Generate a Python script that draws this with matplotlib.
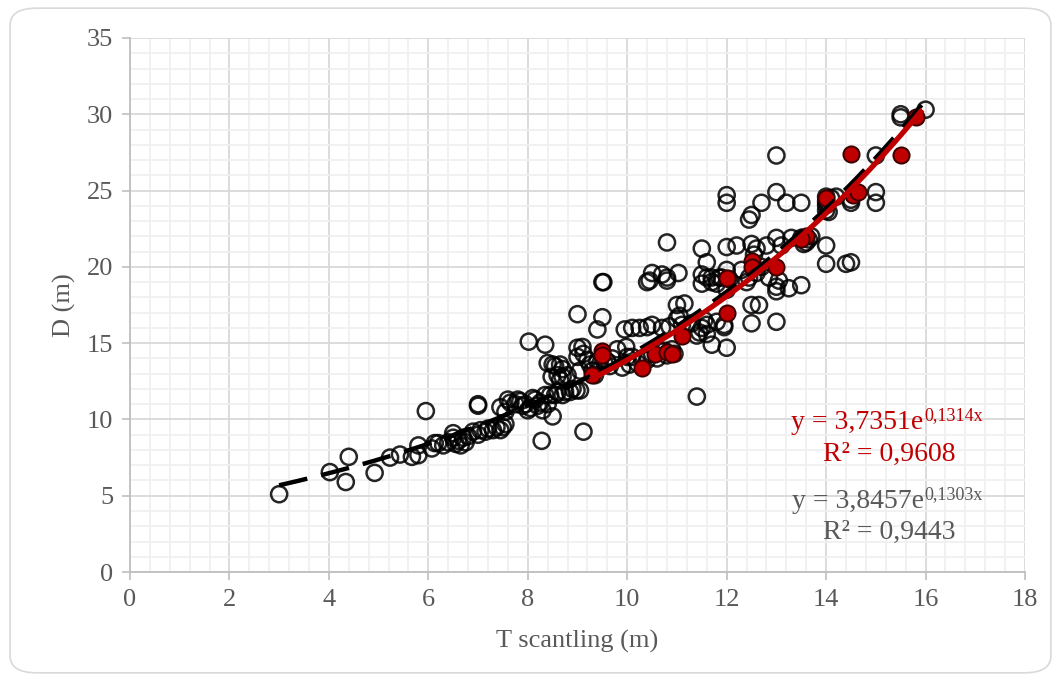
import numpy as np
import matplotlib
matplotlib.use("Agg")
import matplotlib.pyplot as plt
from matplotlib.patches import FancyBboxPatch
from matplotlib.ticker import MultipleLocator

plt.rcParams['font.family'] = ['Liberation Serif', 'DejaVu Serif']

# all measured samples (open circles)
black_x = [3.0, 4.02, 4.4, 4.34, 4.92, 5.23, 5.43, 5.67, 5.8, 5.8, 5.95, 6.07, 6.13, 6.2,
           6.3, 6.4, 6.5, 6.5, 6.55, 6.6, 6.65, 6.7, 6.75, 6.8, 6.9, 7.0, 7.05, 7.15, 7.2, 7.3,
           7.37, 7.45, 7.5, 7.55, 7.0, 7.0,
           7.45, 7.55, 7.6, 7.65, 7.75, 7.8, 7.85, 7.9, 7.95, 8.0, 8.05, 8.1, 8.15, 8.2, 8.25,
           8.3, 8.35, 8.4, 8.45, 8.5, 8.55, 8.6, 8.7, 8.75, 8.85, 8.9, 8.98, 9.05, 8.28, 9.12,
           8.48, 8.6, 8.7, 8.8, 8.65,
           8.02, 8.35, 8.4, 8.5, 8.55, 8.65, 8.7, 9.0, 9.0, 9.05, 9.1, 9.12, 9.2, 9.25, 9.4,
           9.45, 9.55, 9.6, 9.65, 9.7, 9.4, 9.5, 9.0, 9.5, 9.52, 9.3, 9.35,
           9.8, 9.9, 9.95, 9.98, 10.0, 10.05, 10.1, 10.1, 10.2, 10.25, 10.3, 10.4, 10.4, 10.5,
           10.5, 10.6, 10.65, 10.7, 10.75, 10.8, 10.9, 10.95, 11.0, 11.0, 11.05, 11.15, 11.1, 10.85,
           10.4, 10.45, 10.5, 10.7, 10.8, 10.8, 11.03, 10.8,
           11.3, 11.4, 11.45, 11.5, 11.6, 11.6, 11.7, 11.95, 11.95, 12.0, 11.4, 11.55, 11.8,
           11.5, 11.5, 11.5, 11.6, 11.6, 11.7, 11.8, 11.85, 11.9, 12.0, 12.0, 11.7, 12.0, 12.05,
           12.0, 12.0, 12.2, 12.3, 12.45, 12.45, 12.5, 12.5, 12.5, 12.5, 12.6, 12.65, 12.7, 12.8,
           12.85, 12.6, 12.7, 13.0, 13.0, 13.0, 13.05, 13.0, 13.0, 13.0, 13.1, 13.2, 13.25, 13.3,
           12.55, 12.4,
           13.5, 13.5, 13.5, 13.55, 13.6, 13.65, 13.7, 14.0, 14.0, 14.0, 14.0, 14.05, 14.0, 14.0,
           14.1, 14.2, 14.4, 14.5, 14.5, 14.5,
           15.0, 15.0, 15.0, 15.5, 15.5, 16.0]
black_y = [5.1, 6.55, 7.55, 5.9, 6.5, 7.5, 7.7, 7.55, 7.66, 8.3, 10.55, 8.1, 8.45, 8.45,
           8.3, 8.5, 9.1, 8.8, 8.4, 8.6, 8.3, 8.8, 8.5, 8.9, 9.2, 9.0, 9.3, 9.2, 9.4, 9.3,
           9.5, 9.3, 9.5, 9.7, 11.0, 10.9,
           10.8, 10.5, 11.3, 11.1, 11.0, 11.3, 11.2, 10.9, 11.0, 10.6, 10.75, 11.4, 11.3, 10.9, 11.1,
           10.6, 11.6, 11.0, 11.6, 10.2, 11.6, 11.8, 11.6, 11.8, 11.8, 12.0, 11.9, 11.9, 8.6, 9.2,
           12.8, 12.9, 12.8, 12.9, 12.6,
           15.1, 14.9, 13.7, 13.6, 13.5, 13.6, 13.3, 14.7, 14.1, 13.2, 14.75, 14.3, 13.9, 13.6, 13.8,
           13.6, 13.6, 13.8, 13.5, 14.0, 15.9, 16.7, 16.9, 19.0, 19.0, 13.2, 12.9,
           14.6, 13.4, 15.9, 14.75, 14.1, 13.6, 16.0, 14.1, 13.7, 16.0, 14.0, 16.05, 13.9, 16.2,
           14.3, 14.0, 14.5, 16.0, 14.5, 14.2, 14.6, 14.3, 17.5, 16.6, 16.8, 17.6, 16.2, 16.1,
           19.0, 19.1, 19.6, 19.5, 19.1, 19.3, 19.6, 21.6,
           16.3, 15.5, 15.7, 16.0, 15.6, 16.2, 14.9, 16.2, 16.05, 14.7, 11.5, 16.5, 16.4,
           21.2, 19.5, 18.9, 20.3, 19.3, 19.3, 18.9, 19.3, 19.3, 19.8, 21.3, 19.0, 18.5, 19.2,
           24.7, 24.2, 21.4, 19.8, 19.3, 23.1, 23.4, 21.5, 17.5, 16.3, 21.2, 17.5, 24.2, 21.4,
           19.3, 19.6, 20.0, 24.9, 27.3, 21.9, 19.1, 18.7, 18.4, 16.4, 21.4, 24.2, 18.6, 21.9,
           20.8, 19.0,
           24.2, 21.9, 18.8, 21.5, 21.6, 21.8, 22.0, 24.6, 24.3, 24.05, 23.7, 23.6, 21.4, 20.2,
           24.5, 24.6, 20.2, 24.2, 24.4, 20.3,
           27.3, 24.9, 24.2, 30.0, 29.8, 30.3]

# highlighted subset (filled red)
red_x = [9.3, 9.5, 9.5, 10.3, 10.55, 10.8, 10.9, 11.1, 12.0, 12.0, 12.5, 12.5, 13.0,
         13.6, 13.5, 14.0, 14.5, 14.55, 14.65, 15.5, 15.8]
red_y = [12.9, 14.5, 14.2, 13.4, 14.3, 14.4, 14.3, 15.5, 17.0, 19.3, 20.4, 20.0, 20.0,
         22.0, 21.8, 24.5, 27.4, 24.7, 24.9, 27.3, 29.8]

# exponential trendlines y = a * exp(b * x)
fit_all = (3.8457, 0.1303, 0.9443)
fit_red = (3.7351, 0.1314, 0.9608)
range_all = (3.0, 16.0)
range_red = (9.3, 15.9)

GRAY = '#595959'
RED = '#C00000'

fig = plt.figure(figsize=(10.61, 6.81), dpi=100)
fig.patches.append(FancyBboxPatch((0.0095, 0.012), 0.981, 0.976,
                                  boxstyle='round,pad=0,rounding_size=0.025',
                                  transform=fig.transFigure, facecolor='white',
                                  edgecolor='#D9D9D9', linewidth=1.2, zorder=-10))
ax = fig.add_axes([0.1225, 0.160, 0.8436, 0.7842])
ax.set_facecolor('none')

ax.set_xlim(0, 18)
ax.set_ylim(0, 35)
ax.xaxis.set_major_locator(MultipleLocator(2))
ax.xaxis.set_minor_locator(MultipleLocator(0.4))
ax.yaxis.set_major_locator(MultipleLocator(5))
ax.yaxis.set_minor_locator(MultipleLocator(1))
ax.grid(which='major', color='#D9D9D9', linewidth=1.3, zorder=0)
ax.grid(which='minor', color='#F0F0F0', linewidth=1.3, zorder=0)
ax.set_axisbelow(True)
for s in ('top', 'right'):
    ax.spines[s].set_visible(False)
for s in ('left', 'bottom'):
    ax.spines[s].set_color('#BFBFBF')
    ax.spines[s].set_linewidth(1.3)
ax.tick_params(which='major', length=6, width=1.2, color='#BFBFBF',
               labelsize=19, labelcolor=GRAY, pad=6)
ax.tick_params(which='minor', length=0)

ax.scatter(black_x, black_y, s=135, facecolors='none', edgecolors='black',
           linewidths=1.8, alpha=0.85, zorder=3)
ax.scatter(red_x, red_y, s=135, facecolors=RED, edgecolors='#3a0000',
           linewidths=1.4, zorder=4)

xa = np.linspace(*range_all, 200)
ax.plot(xa, fit_all[0] * np.exp(fit_all[1] * xa), color='black', lw=3.2,
        linestyle=(0, (6.5, 3.2)), zorder=5)
xr = np.linspace(*range_red, 200)
ax.plot(xr, fit_red[0] * np.exp(fit_red[1] * xr), color=RED, lw=3.8, zorder=6)

ax.set_xlabel('T scantling (m)', fontsize=19, color=GRAY, labelpad=14)
ax.set_ylabel('D (m)', fontsize=19, color=GRAY, labelpad=8)


def fmt(v, n):
    return f'{v:.{n}f}'.replace('.', ',')


def equation(fit, y_eq, y_r2, color):
    a, b, r2 = fit
    ax.text(15.96, y_eq, f'y = {fmt(a, 4)}e', ha='right', va='baseline',
            fontsize=20, color=color, zorder=7)
    ax.text(15.98, y_eq + 0.55, f'{fmt(b, 4)}x', ha='left', va='baseline',
            fontsize=13, color=color, zorder=7)
    ax.text(15.27, y_r2, f'R² = {fmt(r2, 4)}', ha='center', va='baseline',
            fontsize=20, color=color, zorder=7)


equation(fit_red, 9.4, 7.3, RED)
equation(fit_all, 4.2, 2.2, GRAY)

fig.savefig('out.png', dpi=100)
